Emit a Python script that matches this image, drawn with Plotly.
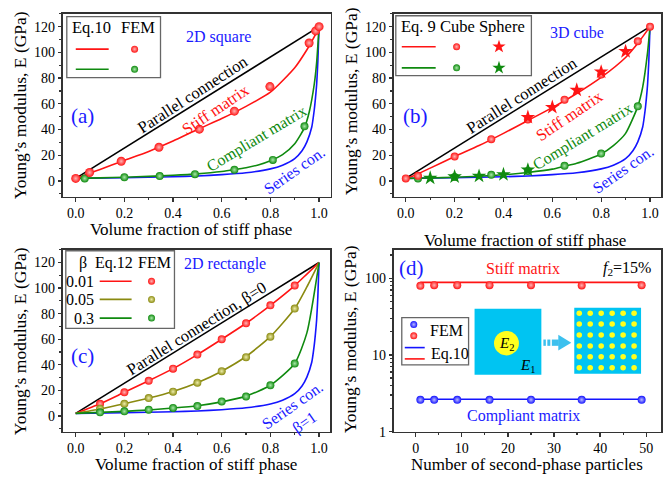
import plotly.graph_objects as go

W, H = 663, 479
FONT = "Liberation Serif, Times New Roman, serif"
RED, GREEN, BLUE, OLIVE, BLACK = "#ff1414", "#0f8a0f", "#1414ff", "#8a8a10", "#000000"
AXC = "#333333"

# ---------------- data ----------------
# bounds shared by (a), (b), (c): compliant phase ~2 GPa, stiff phase 120 GPa
f_parallel = [0.0, 1.0]
E_parallel = [2.0, 120.0]
f_series = [0.0, 0.2, 0.4, 0.5, 0.6, 0.7, 0.8, 0.85, 0.9, 0.93, 0.95, 0.97, 0.98, 0.985, 0.99, 0.995, 1.0]
E_series = [2.0, 2.5, 3.3, 3.9, 4.9, 6.4, 9.4, 12.3, 17.4, 23.5, 30.4, 42.0, 55.0, 64.0, 75.0, 93.0, 120.0]

# (a) 2D square
fa_eq_stiff = [0, 0.05, 0.1, 0.2, 0.3, 0.4, 0.5, 0.6, 0.7, 0.8, 0.9, 0.95, 0.98, 1.0]
Ea_eq_stiff = [2, 5.5, 9, 16, 23, 31, 40, 48.5, 58, 69, 88, 102, 112, 120]
fa_eq_comp = [0, 0.1, 0.2, 0.3, 0.4, 0.5, 0.6, 0.65, 0.7, 0.75, 0.8, 0.85, 0.9, 0.94, 0.96, 0.98, 0.99, 1.0]
Ea_eq_comp = [2, 2.4, 2.9, 3.6, 4.4, 5.5, 7.3, 8.7, 10.3, 12.5, 15.8, 20.5, 29, 41.5, 54, 75, 92, 120]
fa_fem_stiff = [0.0, 0.057, 0.187, 0.342, 0.508, 0.652, 0.798, 0.959, 0.986, 1.0]
Ea_fem_stiff = [2.0, 6.6, 15.3, 26.2, 40.3, 54.3, 73.4, 107.3, 116.7, 120.0]
fa_fem_comp = [0.037, 0.2, 0.345, 0.49, 0.652, 0.81, 0.94]
Ea_fem_comp = [2.0, 2.9, 3.8, 5.3, 8.7, 16.4, 42.5]

# (b) 3D cube
fb_eq_stiff = [0, 0.05, 0.1, 0.2, 0.3, 0.4, 0.5, 0.6, 0.7, 0.8, 0.9, 0.95, 1.0]
Eb_eq_stiff = [2, 5.5, 10, 19, 27.5, 37, 47, 57, 68, 80.5, 96, 107, 120]
fb_eq_comp = [0, 0.1, 0.2, 0.3, 0.4, 0.5, 0.6, 0.65, 0.7, 0.8, 0.85, 0.9, 0.95, 0.97, 0.99, 1.0]
Eb_eq_comp = [2, 2.3, 2.9, 3.7, 4.8, 6.6, 9.2, 11.5, 13.8, 21, 27.5, 37, 58, 73, 100, 120]
fb_cube_stiff = [0.0, 0.05, 0.2, 0.35, 0.5, 0.65, 0.8, 0.95, 1.0]
Eb_cube_stiff = [2.0, 4.0, 19.0, 32.5, 47.8, 63.2, 82.8, 108.7, 120.0]
fb_sph_stiff = [0.5, 0.6, 0.7, 0.8, 0.9]
Eb_sph_stiff = [49.5, 57.3, 70.7, 84.8, 100.7]
fb_cube_comp = [0.05, 0.2, 0.35, 0.5, 0.65, 0.8, 0.95]
Eb_cube_comp = [2.0, 3.0, 4.8, 7.8, 11.8, 21.3, 58.0]
fb_sph_comp = [0.1, 0.2, 0.3, 0.4, 0.5]
Eb_sph_comp = [2.3, 3.3, 3.8, 5.0, 8.6]

# (c) 2D rectangle, beta = 0.01, 0.05, 0.3
fc_eq = [0, 0.1, 0.2, 0.3, 0.4, 0.5, 0.6, 0.7, 0.8, 0.9, 0.95, 1.0]
Ec_eq_001 = [2, 9.5, 18.5, 27.5, 37, 48, 60, 72.5, 86.5, 102, 111, 120]
Ec_eq_005 = [2, 5.4, 9.5, 14, 19.2, 26, 35, 46.5, 62, 84, 101, 120]
Ec_eq_03 = [2, 2.8, 3.6, 4.7, 6.2, 8, 11, 15.5, 24, 41, 65, 120]
fc_fem = [0.1, 0.2, 0.3, 0.4, 0.5, 0.6, 0.7, 0.8, 0.9]
Ec_fem_001 = [9.5, 18.5, 27.5, 37, 48, 60, 72.5, 86.5, 102]
Ec_fem_005 = [5.6, 9.5, 14, 19, 26, 35, 46, 62, 84]
Ec_fem_03 = [2.8, 3.6, 4.9, 6.3, 7.7, 11.3, 15.2, 24, 41]

# (d) number of particles, f2 = 15 %
Nd_fem = [1, 4, 9, 16, 25, 36, 49]
Ed_fem_stiff = [79.5, 81, 81, 81, 81, 80.5, 81]
Ed_fem_comp = [2.6, 2.6, 2.6, 2.6, 2.6, 2.6, 2.6]
Nd_eq = [1, 49]
Ed_eq_stiff = [88, 88]
Ed_eq_comp = [2.65, 2.65]

# ---------------- figure ----------------
fig = go.Figure()
A, B, C, D, O = ("x", "y"), ("x2", "y2"), ("x3", "y3"), ("x4", "y4"), ("x5", "y5")


def line(x, y, color, ax, width=1.6, smooth=True):
    fig.add_trace(go.Scatter(
        x=x, y=y, mode="lines", xaxis=ax[0], yaxis=ax[1],
        line=dict(color=color, width=width, shape="spline" if smooth else "linear", smoothing=0.6),
        hoverinfo="skip", showlegend=False))


def balls(x, y, color, light, ax, size=9):
    fig.add_trace(go.Scatter(
        x=x, y=y, mode="markers", xaxis=ax[0], yaxis=ax[1], cliponaxis=False,
        marker=dict(symbol="circle", size=size, color=color, line=dict(width=0),
                    gradient=dict(type="radial", color=light)),
        hoverinfo="skip", showlegend=False))


def stars(x, y, color, ax, size=11):
    fig.add_trace(go.Scatter(
        x=x, y=y, mode="markers", xaxis=ax[0], yaxis=ax[1], cliponaxis=False,
        marker=dict(symbol="star", size=size, color=color, line=dict(width=0)),
        hoverinfo="skip", showlegend=False))


LR, LG, LO, LB = "#ffb4b4", "#a8e8a8", "#eeeeaa", "#b8b8ff"

# (a)
line(f_parallel, E_parallel, BLACK, A, smooth=False)
line(f_series, E_series, BLUE, A)
line(fa_eq_stiff, Ea_eq_stiff, RED, A)
line(fa_eq_comp, Ea_eq_comp, GREEN, A)
balls(fa_fem_comp, Ea_fem_comp, GREEN, LG, A, 8)
balls(fa_fem_stiff, Ea_fem_stiff, RED, LR, A, 9)

# (b)
line(f_parallel, E_parallel, BLACK, B, smooth=False)
line(f_series, E_series, BLUE, B)
line(fb_eq_stiff, Eb_eq_stiff, RED, B)
line(fb_eq_comp, Eb_eq_comp, GREEN, B)
balls(fb_cube_comp, Eb_cube_comp, GREEN, LG, B, 8)
stars(fb_sph_comp, Eb_sph_comp, GREEN, B)
balls(fb_cube_stiff, Eb_cube_stiff, RED, LR, B, 8)
stars(fb_sph_stiff, Eb_sph_stiff, RED, B)

# (c)
line(f_parallel, E_parallel, BLACK, C, smooth=False)
line(f_series, E_series, BLUE, C)
line(fc_eq, Ec_eq_001, RED, C)
line(fc_eq, Ec_eq_005, OLIVE, C)
line(fc_eq, Ec_eq_03, GREEN, C)
balls(fc_fem, Ec_fem_001, RED, LR, C, 8)
balls(fc_fem, Ec_fem_005, OLIVE, LO, C, 8)
balls(fc_fem, Ec_fem_03, GREEN, LG, C, 8)

# (d)
line(Nd_eq, Ed_eq_stiff, RED, D, smooth=False)
line(Nd_eq, Ed_eq_comp, BLUE, D, smooth=False)
balls(Nd_fem, Ed_fem_stiff, RED, LR, D, 8)
balls(Nd_fem, Ed_fem_comp, BLUE, LB, D, 8)

# ---------------- decorations in a pixel-space overlay ----------------
shapes = []


def rect(x0, y0, x1, y1, fill, line_color=None, lw=0, layer="above"):
    shapes.append(dict(type="rect", xref="x5", yref="y5", x0=x0, y0=y0, x1=x1, y1=y1,
                       fillcolor=fill, line=dict(color=line_color or fill, width=lw), layer=layer))


def seg(x0, y0, x1, y1, color, lw=1.6):
    shapes.append(dict(type="line", xref="x5", yref="y5", x0=x0, y0=y0, x1=x1, y1=y1,
                       line=dict(color=color, width=lw), layer="above"))


def circ(cx, cy, r, fill):
    shapes.append(dict(type="circle", xref="x5", yref="y5", x0=cx - r, y0=cy - r, x1=cx + r, y1=cy + r,
                       fillcolor=fill, line=dict(width=0), layer="above"))


def legend_ball(x, y, color, light, size=7):
    fig.add_trace(go.Scatter(x=[x], y=[y], mode="markers", xaxis="x5", yaxis="y5", cliponaxis=False,
                             marker=dict(size=size, color=color, line=dict(width=0),
                                         gradient=dict(type="radial", color=light)),
                             hoverinfo="skip", showlegend=False))


def legend_star(x, y, color, size=10):
    fig.add_trace(go.Scatter(x=[x], y=[y], mode="markers", xaxis="x5", yaxis="y5", cliponaxis=False,
                             marker=dict(symbol="star", size=size, color=color, line=dict(width=0)),
                             hoverinfo="skip", showlegend=False))


annots = []


def txt(x, y, s, size=16, color="black", angle=0, xanchor="center"):
    annots.append(dict(x=x, y=y, xref="x5", yref="y5", text=s, showarrow=False, textangle=angle,
                       xanchor=xanchor, yanchor="middle",
                       font=dict(family=FONT, size=size, color=color)))


# legend (a)
rect(67, 17, 161, 79, "white", "#666666", 1.3, layer="below")
txt(92, 28, "Eq.10", 16.5)
txt(138, 28, "FEM", 16.5)
seg(76, 50, 109, 50, RED)
seg(76, 70.5, 109, 70.5, GREEN)
legend_ball(135, 50, RED, LR)
legend_ball(135, 70.5, GREEN, LG)

# legend (b)
rect(397, 16, 533, 77, "white", "#666666", 1.3, layer="below")
txt(464, 27, "Eq. 9 Cube Sphere", 16.5)
seg(403, 47.5, 437, 47.5, RED)
seg(403, 69, 437, 69, GREEN)
legend_ball(458, 47.5, RED, LR)
legend_ball(458, 69, GREEN, LG)
legend_star(500.5, 47.5, RED)
legend_star(500.5, 69, GREEN)

# legend (c)
rect(66, 255, 175, 334, "white", "#666666", 1.3, layer="below")
txt(83, 267, "β", 16)
txt(114.5, 267, "Eq.12", 16)
txt(154.5, 267, "FEM", 16)
for yy, lab, col, lc in [(286, "0.01", RED, LR), (304.5, "0.05", OLIVE, LO), (323.5, "0.3", GREEN, LG)]:
    txt(96, yy, lab, 16, xanchor="right")
    seg(100, yy, 132, yy, col)
    legend_ball(152, yy, col, lc)

# legend (d)
rect(403, 323, 470, 371, "white", "#666666", 1.3, layer="below")
legend_ball(415, 330, BLUE, LB)
legend_ball(415, 341.5, RED, LR)
seg(406, 353.5, 426, 353.5, BLUE)
seg(406, 365, 426, 365, RED)
txt(448, 336.5, "FEM", 16)
txt(451, 360, "Eq.10", 16)

# inset sketch (d)
CYAN, YEL = "#00c4f2", "#ffff1e"
rect(476, 314, 543, 381, CYAN)
circ(508, 349, 12.5, YEL)
txt(508, 350, "<i>E</i><sub>2</sub>", 15)
txt(529, 372, "<i>E</i><sub>1</sub>", 15)
for x0, x1 in [(545, 547.5), (549, 552), (553.5, 560.5)]:
    rect(x0, 345.3, x1, 351.7, "#3cc0ee")
shapes.append(dict(type="path", xref="x5", yref="y5", path="M 560 340.5 L 573 348.5 L 560 356.5 Z",
                   fillcolor="#3cc0ee", line=dict(width=0), layer="above"))
rect(576, 313, 643, 380, CYAN)
for i in range(6):
    for j in range(6):
        circ(581 + 11.0 * i, 318.5 + 11.1 * j, 2.8, YEL)

# panel texts
BL = "#1a1aff"
txt(219, 38, "2D square", 16, BL)
txt(83, 118, "(a)", 21, BL)
txt(193, 96, "Parallel connection", 16.5, BLACK, -33)
txt(216, 111, "Stiff matrix", 16.5, RED, -34)
txt(257, 141, "Compliant matrix", 16, GREEN, -31)
txt(295, 173, "Series con.", 16, BL, -35)

txt(579, 33, "3D cube", 16, BL)
txt(417, 118, "(b)", 21, BL)
txt(523, 97, "Parallel connection", 16.5, BLACK, -32.5)
txt(571.5, 117.5, "Stiff matrix", 16.5, RED, -34)
txt(584, 139, "Compliant matrix", 16, GREEN, -31.5)
txt(625, 172.5, "Series con.", 16, BL, -35)

txt(226, 268, "2D rectangle", 16, BL)
txt(83, 362, "(c)", 21, BL)
txt(197, 334, "Parallel connection, β=0", 16.5, BLACK, -32)
txt(299.5, 422, "Series con.<br>β=1", 16, BL, -35)

txt(413, 273, "(d)", 21, BL)
txt(525, 273, "Stiff matrix", 16, RED)
txt(629, 273, "<i>f</i><sub>2</sub>=15%", 16)
txt(525, 423, "Compliant matrix", 16, BL)

# axis titles
YT = "Young’s modulus, E (GPa)"
XT = "Volume fraction of stiff phase"
txt(20, 107, YT, 17.5, angle=-90)
txt(352, 103, YT, 17.5, angle=-90)
txt(20, 347, YT, 17.5, angle=-90)
txt(351, 345, YT, 17.5, angle=-90)
txt(192, 233, XT, 17)
txt(527, 245, XT, 17)
txt(197, 472.5, XT, 17)
txt(529, 472.5, "Number of second-phase particles", 17)

# ---------------- axes ----------------
common = dict(showline=True, linecolor=AXC, linewidth=1.5, mirror=True, ticks="outside",
              ticklen=3.5, tickwidth=1.3, tickcolor=AXC, showgrid=False, zeroline=False,
              tickfont=dict(family=FONT, size=14, color="black"), fixedrange=True)


def fx(p):
    return p / W


def fy(p):
    return 1 - p / H


def xfrac(dom, rng, anchor):
    return dict(domain=dom, range=rng, anchor=anchor, dtick=0.2, tick0=0, tickformat=".1f",
                minor=dict(ticks="outside", ticklen=2.2, tickwidth=1.2, tickcolor=AXC, dtick=0.1, tick0=0),
                **common)


def ylin(dom, rng, anchor):
    return dict(domain=dom, range=rng, anchor=anchor, dtick=20, tick0=0,
                minor=dict(ticks="outside", ticklen=2.2, tickwidth=1.2, tickcolor=AXC, dtick=10, tick0=0),
                **common)


top = [fy(200), fy(14)]
bot = [fy(439), fy(254)]
left = [fx(63), fx(332)]
right = [fx(395), 1.0]

fig.update_layout(
    width=W, height=H, margin=dict(l=0, r=0, t=0, b=0),
    paper_bgcolor="white", plot_bgcolor="rgba(0,0,0,0)", showlegend=False,
    xaxis=xfrac(left, [-0.053, 1.049], "y"),
    yaxis=ylin(top, [-12.2, 130], "x"),
    xaxis2=xfrac(right, [-0.049, 1.045], "y2"),
    yaxis2=ylin(top, [-12.2, 130], "x2"),
    xaxis3=xfrac([fx(63), fx(331)], [-0.053, 1.045], "y3"),
    yaxis3=ylin(bot, [-12.3, 130], "x3"),
    xaxis4=dict(domain=right, range=[-4.76, 53.2], anchor="y4", dtick=10, tick0=0,
                minor=dict(ticks="outside", ticklen=2.2, tickwidth=1.2, tickcolor=AXC, dtick=5, tick0=0),
                **common),
    yaxis4=dict(domain=bot, type="log", range=[0, 2.37], anchor="x4",
                tickvals=[1, 10, 100], ticktext=["1", "10", "100"],
                minor=dict(ticks="outside", ticklen=2.2, tickwidth=1.2, tickcolor=AXC,
                           tickvals=[2, 3, 4, 5, 6, 7, 8, 9, 20, 30, 40, 50, 60, 70, 80, 90, 200]),
                **common),
    xaxis5=dict(domain=[0, 1], range=[0, W], anchor="y5", visible=False, fixedrange=True),
    yaxis5=dict(domain=[0, 1], range=[H, 0], anchor="x5", visible=False, fixedrange=True),
    shapes=shapes, annotations=annots,
)

fig.write_html("out.html", config={"displayModeBar": False, "staticPlot": True},
               post_script="document.body.style.margin='0';")
